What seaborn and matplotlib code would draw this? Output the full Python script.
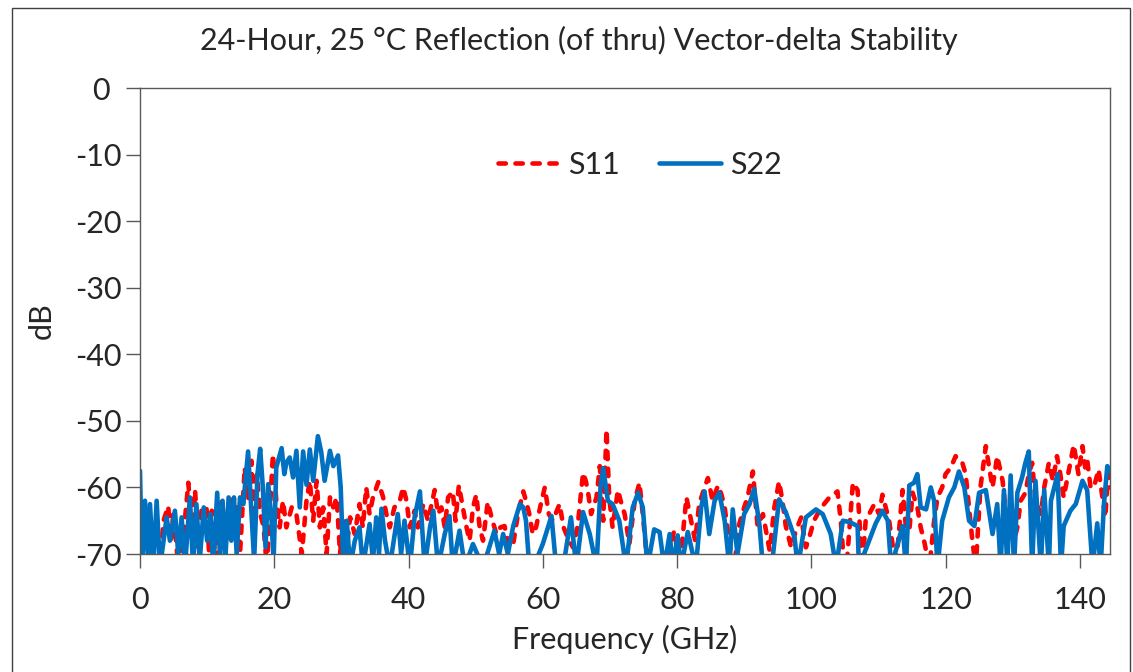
import numpy as np
import pandas as pd
import matplotlib
matplotlib.use("Agg")
import matplotlib.pyplot as plt
from matplotlib.patches import Rectangle
from matplotlib.transforms import ScaledTranslation
import seaborn as sns

# ---------------- data ----------------
s22_freq = [0.0, 0.3, 0.74, 1.24, 1.49, 1.98, 2.48, 2.98, 3.97, 4.46, 5.2, 5.7, 6.2, 6.7,
            7.44, 7.9, 8.4, 8.9, 9.5, 10.0, 10.5, 10.9, 11.5, 11.9, 12.3, 12.7, 13.2, 13.6,
            14.0, 14.4, 14.9, 15.4, 15.8, 16.1, 16.5, 17.0, 17.5, 17.9, 18.3, 18.7, 19.1,
            19.6, 19.9, 20.3, 21.1, 21.5, 21.8, 22.3, 22.8, 23.3, 23.8, 24.3, 24.8, 25.3,
            25.8, 26.5, 27.0, 27.5, 28.3, 28.8, 29.5, 29.9, 30.3, 30.8, 31.3, 32.0, 32.7,
            33.2, 34.2, 34.7, 35.2, 35.6, 35.97, 36.5, 37.2, 38.4, 38.9, 39.4, 40.2, 40.9,
            41.7, 42.4, 43.2, 43.7, 44.4, 45.4, 46.1, 46.6, 47.6, 48.4, 49.6, 51.1, 52.8,
            53.5, 54.1, 54.8, 55.6, 56.6, 57.1, 57.5, 58.0, 59.0, 60.0, 61.3, 62.0, 63.2,
            64.2, 65.0, 66.0, 67.0, 68.0, 68.6, 69.0, 69.7, 70.4, 71.4, 72.4, 73.4, 74.2,
            74.9, 75.6, 76.6, 77.4, 78.1, 78.9, 79.4, 80.1, 80.6, 81.6, 82.8, 83.6, 84.1,
            84.8, 85.6, 86.3, 87.1, 87.8, 88.3, 89.0, 90.0, 90.8, 91.5, 92.3, 92.8, 94.2,
            95.2, 96.2, 97.5, 98.0, 99.2, 100.7, 101.7, 102.9, 103.7, 104.7, 105.7, 106.9,
            107.1, 109.6, 110.6, 111.4, 111.9, 113.6, 114.1, 114.6, 115.3, 115.8, 116.3,
            117.1, 117.8, 118.3, 118.8, 119.5, 120.5, 121.3, 122.0, 122.8, 123.5, 124.3,
            125.0, 126.0, 127.0, 127.7, 128.2, 128.7, 129.2, 129.7, 130.2, 130.7, 131.4,
            131.9, 132.4, 132.9, 133.4, 134.2, 134.7, 135.4, 135.7, 136.7, 137.2, 137.6,
            138.6, 139.4, 140.4, 141.1, 141.9, 142.6, 143.1, 143.6, 144.1, 144.5]
s22_db = [-57.5, -72, -62, -72, -62.5, -72, -62, -72, -64.5, -68, -63.5, -70, -64.5, -72,
          -61.5, -72, -62.5, -71, -63, -68, -64, -72, -60.8, -70, -62, -71, -61.5, -68,
          -61.5, -70, -61.5, -62.5, -58, -54.6, -62, -71, -58, -54.2, -60, -69, -59.5,
          -65, -71, -57, -54.1, -58, -56.3, -55.5, -58.5, -54.5, -63, -54.6, -59.6, -54.3,
          -59, -52.3, -54.7, -59, -54.5, -56.8, -55.2, -60, -72, -65, -72, -68, -66,
          -72, -65.5, -71, -64.5, -70, -63.2, -68, -72, -64, -70, -65, -72, -64.5,
          -60.6, -72, -66, -63.5, -72, -67, -64.3, -72, -66.5, -72, -68.5, -72, -66.5,
          -70, -67, -70, -65.8, -62.5, -63, -65, -72, -71, -68.5, -64.3, -72, -71,
          -64.5, -72, -63.7, -67, -72, -60, -57.1, -62, -62.5, -65, -72, -63, -60.8,
          -63, -72, -66.3, -66.7, -72, -67, -72, -67.2, -72, -66.7, -72, -63, -60.6,
          -67, -62, -60.8, -65, -72, -63.3, -70, -64, -62.5, -60.2, -65.8, -72, -71,
          -61.8, -63.7, -67.5, -72, -64.5, -63.3, -64, -67, -72, -65, -65.2, -65.8,
          -72, -65.4, -63.5, -65, -72, -65.8, -72, -59.7, -59.3, -58, -63,
          -63.3, -60, -62, -72, -65, -61.5, -60, -57.6, -60, -65, -65.8,
          -60.8, -60.4, -67, -62.5, -72, -60.4, -72, -58.2, -72, -60.8, -58.5,
          -56.3, -54.6, -72, -59, -72, -60.4, -72, -62, -58, -72, -65.8,
          -63.5, -62.5, -59, -60.4, -72, -65.4, -72, -62.5, -56.8, -57.5]

s11_freq = [0.0, 2.98, 3.5, 4.2, 4.6, 5.0, 5.7, 6.4, 7.2, 7.7, 8.2, 8.7, 9.2, 9.9, 10.3,
            10.7, 11.3, 12.2, 12.9, 13.9, 14.4, 14.9, 15.6, 16.1, 16.6, 17.0, 17.4, 17.9,
            18.4, 18.9, 19.8, 20.3, 20.8, 21.3, 21.8, 22.6, 23.3, 24.1, 24.8, 25.3, 25.8,
            26.3, 26.8, 27.3, 27.8, 28.3, 28.8, 29.3, 29.8, 30.3, 30.8, 31.3, 32.0, 32.7,
            33.2, 33.7, 34.2, 34.7, 35.5, 36.2, 36.7, 37.2, 37.9, 38.7, 39.2, 39.7, 40.2,
            40.9, 41.4, 42.2, 42.9, 43.9, 44.4, 44.9, 45.4, 45.9, 46.6, 47.0, 47.5, 48.1,
            48.6, 49.1, 49.6, 50.1, 50.6, 51.1, 51.8, 52.5, 53.1, 53.7, 54.3, 55.0, 55.6,
            56.3, 57.1, 57.5, 58.0, 58.5, 59.0, 59.6, 60.3, 60.9, 61.5, 62.5, 63.1, 63.7,
            64.5, 65.2, 66.0, 66.4, 66.7, 67.2, 68.0, 68.5, 69.0, 69.5, 69.9, 70.4, 71.2,
            71.6, 72.2, 72.9, 73.7, 74.4, 74.9, 75.4, 76.4, 77.9, 79.6, 80.4, 81.4, 82.1,
            82.7, 83.3, 84.1, 84.6, 85.3, 86.1, 86.6, 87.1, 87.8, 88.5, 89.3, 90.0, 90.5,
            91.3, 92.0, 92.8, 93.8, 94.5, 95.2, 95.7, 96.2, 97.0, 97.7, 98.5, 99.2, 99.7,
            100.4, 101.2, 101.9, 102.7, 103.9, 104.4, 104.9, 105.4, 106.2, 106.9, 107.6,
            108.1, 109.4, 110.1, 110.6, 111.6, 112.6, 113.6, 114.1, 114.6, 115.1, 115.8,
            116.3, 116.8, 117.6, 118.3, 118.8, 119.5, 120.0, 120.8, 121.5, 122.0, 122.5,
            123.0, 123.5, 124.0, 124.5, 125.2, 126.0, 126.5, 127.0, 127.7, 128.5, 129.0,
            129.7, 130.2, 130.7, 131.2, 131.9, 132.4, 132.9, 133.4, 134.2, 134.7, 135.4,
            136.0, 136.6, 137.1, 137.6, 138.4, 139.1, 139.8, 140.4, 140.8, 141.1, 141.6,
            142.1, 142.8, 143.3, 143.8, 144.2, 144.5]
s11_db = [-72, -72, -65, -62.8, -68, -63.5, -72, -68, -59.3, -66, -60.4, -69, -63, -63, -70,
          -63.5, -72, -62, -68, -61.7, -62, -70, -57, -62, -56, -65, -58, -64,
          -65.8, -72, -55, -62, -66, -62, -66, -63, -64, -70, -62, -59, -65,
          -59, -66, -63, -70, -61.5, -63, -61.5, -70, -65, -69, -64.5, -67, -62.5,
          -66, -60, -64, -61.5, -59.2, -61.4, -64, -66, -63, -62, -60, -62, -66,
          -63.5, -66, -62.5, -65, -60.4, -64, -63, -66, -61.5, -60.6, -65, -59.7, -63,
          -65.8, -68, -63, -61.1, -66, -68, -62.2, -65, -67, -66, -65.8, -69, -68.5,
          -64, -60.6, -62, -64, -67, -66, -63, -60, -64, -65, -62.5, -66, -67.5,
          -69, -65.8, -57.8, -59, -60.4, -64, -61.5, -56.8, -65, -51.3, -61.5, -66, -60.4,
          -62, -64, -68.5, -62, -59.3, -64, -69.5, -72, -72, -66.5, -72, -61.5, -65,
          -68, -62.5, -60, -58.6, -62, -59.7, -61, -63, -68.5, -72, -65.4, -63, -61.5,
          -57.6, -65.8, -64, -69.5, -63, -59.1, -62, -65.8, -69, -66.5, -64.5, -69, -67.5,
          -65, -63.5, -62.5, -61.5, -60.6, -65, -72, -70, -59.3, -60.4, -72,
          -65, -62.5, -64, -61.1, -65, -72, -60.4, -66, -66.5, -60.8, -63,
          -66, -68, -72, -65, -61.5, -60, -58, -57, -55.3, -56, -56.3,
          -58, -63, -68, -72, -60, -53.8, -57, -60, -55.3, -59, -64,
          -63, -68, -66, -62, -60.8, -58, -56.3, -62, -64, -60, -56.3,
          -59, -55.3, -58, -61.5, -57.3, -53.6, -58, -53.8, -57, -55.8, -60,
          -60, -57.3, -61, -64.5, -58, -60]

x_ticks = [0, 20, 40, 60, 80, 100, 120, 140]
y_ticks = [0, -10, -20, -30, -40, -50, -60, -70]
title = "24-Hour, 25 °C Reflection (of thru) Vector-delta Stability"
series_names = ["S11", "S22"]

# ---------------- build dataframe ----------------
df = pd.concat([
    pd.DataFrame({"freq": s11_freq, "dB": s11_db, "series": "S11"}),
    pd.DataFrame({"freq": s22_freq, "dB": s22_db, "series": "S22"}),
], ignore_index=True)

sns.set_theme(style="white")
plt.rcParams["font.family"] = ["Lato", "DejaVu Sans"]

fig = plt.figure(figsize=(11.33, 6.72), dpi=100)
ax = fig.add_axes([140 / 1133, 1 - 554 / 672, 970 / 1133, 466 / 672])

palette = {"S11": "#FF0000", "S22": "#0070C0"}
dashes = {"S11": (1.6, 2.1), "S22": ""}
LW = 3.3
sns.lineplot(data=df, x="freq", y="dB", hue="series", style="series",
             hue_order=series_names, style_order=series_names,
             palette=palette, dashes=dashes, linewidth=LW,
             estimator=None, sort=False, ax=ax, legend=True)
for ln in ax.get_lines():
    ln.set_dash_capstyle("round")
    ln.set_solid_capstyle("round")
    ln.set_solid_joinstyle("round")
    ln.set_dash_joinstyle("round")

ax.set_xlim(0, 144.5)
ax.set_ylim(-70, 0)
ax.set_xticks(x_ticks)
ax.set_yticks(y_ticks)
ax.set_xticklabels([str(t) for t in x_ticks])
ax.set_yticklabels([str(t) for t in y_ticks])

txt_col = "#262626"
spine_col = "#595959"
for s in ax.spines.values():
    s.set_visible(True)
    s.set_color(spine_col)
    s.set_linewidth(1.0)
ax.tick_params(axis="both", which="major", direction="out", length=10, width=1.0,
               color=spine_col, labelsize=22, labelcolor=txt_col,
               bottom=True, left=True)
ax.tick_params(axis="y", pad=3)
ax.tick_params(axis="x", pad=13)
# the "0" label sits further left in the reference
lbl0 = ax.get_yticklabels()[0]
lbl0.set_transform(lbl0.get_transform() + ScaledTranslation(-12 / 100, 0, fig.dpi_scale_trans))

ax.set_xlabel("Frequency (GHz)", fontsize=22, color=txt_col, labelpad=8)
ax.set_ylabel("dB", fontsize=22, color=txt_col, labelpad=14)
ax.grid(False)

fig.suptitle(title, fontsize=22, color=txt_col, x=579 / 1133, y=1 - 40 / 672, va="center")

handles, labels = ax.get_legend_handles_labels()
ax.get_legend().remove()
leg = ax.legend(handles, labels, loc="center", bbox_to_anchor=(0.515, 0.835), ncol=2,
                frameon=False, fontsize=22, handlelength=2.0, handletextpad=0.3,
                columnspacing=1.3)
for h in leg.get_lines():
    h.set_linewidth(LW)
    h.set_dash_capstyle("round")
for t in leg.get_texts():
    t.set_color(txt_col)

# outer border around the whole figure
fig.patches.append(Rectangle((12 / 1133, -0.01), 1118 / 1133, 1.01 - 8 / 672,
                             transform=fig.transFigure, fill=False,
                             edgecolor="#404040", linewidth=1.0))

fig.savefig("out.png", dpi=100)
